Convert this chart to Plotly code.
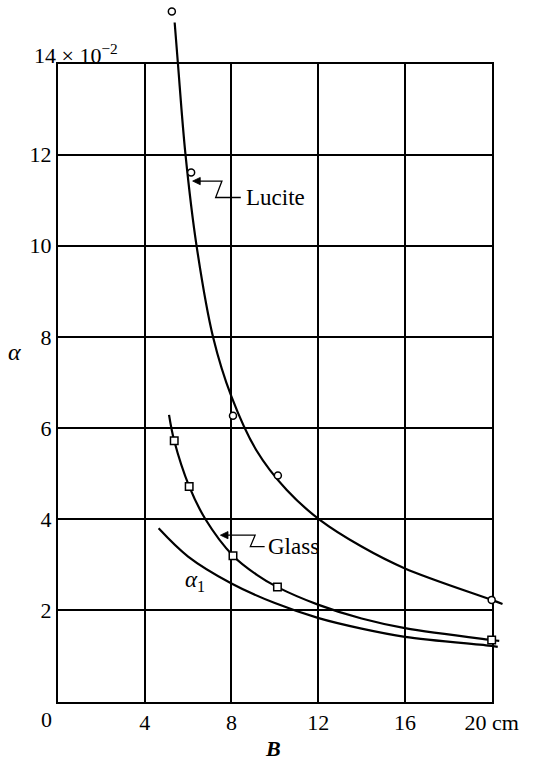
import plotly.graph_objects as go

# ---------------- data ----------------
# Lucite: measured points (open circles) and drawn curve
lucite_pts_B = [5.25, 6.14, 8.07, 10.14, 20.0]
lucite_pts_a = [15.14, 11.61, 6.27, 4.96, 2.23]
lucite_curve_B = [5.38, 5.53, 5.88, 6.39, 7.15, 8.0, 9.14, 10.55, 12.09, 14.0, 16.0, 20.0, 20.5]
lucite_curve_a = [14.9, 14.0, 12.0, 10.0, 8.0, 6.69, 5.52, 4.64, 3.98, 3.40, 2.92, 2.23, 2.14]

# Glass: measured points (open squares) and drawn curve
glass_pts_B = [5.36, 6.05, 8.07, 10.12, 20.0]
glass_pts_a = [5.72, 4.72, 3.20, 2.51, 1.35]
glass_curve_B = [5.12, 5.36, 6.05, 6.8, 8.07, 9.17, 10.12, 12.02, 14.0, 16.0, 20.0, 20.35]
glass_curve_a = [6.29, 5.72, 4.72, 4.0, 3.2, 2.78, 2.51, 2.12, 1.82, 1.61, 1.35, 1.33]

# alpha_1 curve
a1_curve_B = [4.64, 6.0, 8.0, 10.0, 12.02, 14.0, 16.0, 20.0, 20.28]
a1_curve_a = [3.80, 3.18, 2.59, 2.16, 1.83, 1.60, 1.42, 1.22, 1.20]

x_tickvals = [4, 8, 12, 16, 20]
x_ticktext = ["4", "8", "12", "16", "20 cm"]
y_tickvals = [2, 4, 6, 8, 10, 12]
y_ticktext = ["2", "4", "6", "8", "10", "12"]

# ---------------- layout geometry ----------------
W, H = 551, 762
PL, PR, PT, PB = 61, 517, 63.5, 701.5
X_MAX, Y_MAX = 20, 14
sx = (PR - PL) / X_MAX
sy = (PB - PT) / Y_MAX
FONT = "Liberation Serif"

def px(xp):
    return xp / W

def py(yp):
    return 1 - yp / H

fig = go.Figure()

curve_kw = dict(mode="lines", xaxis="x2", yaxis="y2", hoverinfo="skip", showlegend=False,
                cliponaxis=False)
for xb, ya in [(lucite_curve_B, lucite_curve_a), (glass_curve_B, glass_curve_a), (a1_curve_B, a1_curve_a)]:
    fig.add_trace(go.Scatter(x=xb, y=ya, line=dict(color="black", width=2.2, shape="spline", smoothing=1.0),
                             **curve_kw))

fig.add_trace(go.Scatter(x=lucite_pts_B, y=lucite_pts_a, mode="markers", xaxis="x2", yaxis="y2",
                         cliponaxis=False, showlegend=False,
                         marker=dict(symbol="circle", size=7, color="white", line=dict(color="black", width=1.5))))
fig.add_trace(go.Scatter(x=glass_pts_B, y=glass_pts_a, mode="markers", xaxis="x2", yaxis="y2",
                         cliponaxis=False, showlegend=False,
                         marker=dict(symbol="square", size=7.5, color="white", line=dict(color="black", width=1.5))))

axis_common = dict(showgrid=True, gridcolor="black", gridwidth=1.6, showline=True, linecolor="black",
                   linewidth=2.2, mirror=True, ticks="", zeroline=False,
                   tickfont=dict(family=FONT, size=22, color="black"), fixedrange=True)

fig.update_layout(
    width=W, height=H,
    margin=dict(l=0, r=0, t=0, b=0),
    paper_bgcolor="white", plot_bgcolor="rgba(0,0,0,0)",
    showlegend=False,
    font=dict(family=FONT, color="black"),
    xaxis=dict(domain=[px(PL), px(PR)], range=[0, X_MAX], anchor="y",
               tickmode="array", tickvals=x_tickvals, ticktext=x_ticktext, **axis_common),
    yaxis=dict(domain=[py(PB), py(PT)], range=[0, Y_MAX], anchor="x",
               tickmode="array", tickvals=y_tickvals, ticktext=y_ticktext, **axis_common),
    xaxis2=dict(domain=[px(PL), 1], range=[0, (W - PL) / sx], anchor="y2", visible=False, fixedrange=True),
    yaxis2=dict(domain=[py(PB), 1], range=[0, PB / sy], anchor="x2", visible=False, fixedrange=True),
)

ann = []
ann.append(dict(text="14 × 10<sup>−2</sup>", xref="paper", yref="paper", x=px(34), y=py(54),
                xanchor="left", yanchor="middle", showarrow=False, font=dict(family=FONT, size=22)))
ann.append(dict(text="0", xref="paper", yref="paper", x=px(48.7), y=py(719),
                xanchor="center", yanchor="middle", showarrow=False, font=dict(family=FONT, size=22)))
ann.append(dict(text="<i>α</i>", xref="paper", yref="paper", x=px(15), y=py(352),
                xanchor="center", yanchor="middle", showarrow=False, font=dict(family=FONT, size=24)))
ann.append(dict(text="<b><i>B</i></b>", xref="paper", yref="paper", x=px(287), y=py(748),
                xanchor="center", yanchor="middle", showarrow=False, font=dict(family=FONT, size=22)))
ann.append(dict(text="Lucite", xref="x", yref="y", x=8.58, y=11.06, xanchor="left", yanchor="middle",
                showarrow=False, font=dict(family=FONT, size=23)))
ann.append(dict(text="Glass", xref="x", yref="y", x=9.6, y=3.40, xanchor="left", yanchor="middle",
                showarrow=False, font=dict(family=FONT, size=23)))
ann.append(dict(text="<i>α</i><sub>1</sub>", xref="x", yref="y", x=6.32, y=2.65, xanchor="center",
                yanchor="middle", showarrow=False, font=dict(family=FONT, size=23)))
fig.update_layout(annotations=ann)

# leader lines with small filled arrowheads
lead = dict(color="black", width=1.3)
fig.update_layout(shapes=[
    dict(type="path", xref="x", yref="y", path="M 6.45 11.42 L 7.56 11.42 L 7.27 11.06 L 8.43 11.06",
         line=lead),
    dict(type="path", xref="x", yref="y", path="M 6.21 11.42 L 6.56 11.50 L 6.56 11.34 Z",
         line=dict(color="black", width=0.8), fillcolor="black"),
    dict(type="path", xref="x", yref="y", path="M 7.73 3.65 L 9.09 3.65 L 8.87 3.40 L 9.53 3.40",
         line=lead),
    dict(type="path", xref="x", yref="y", path="M 7.49 3.65 L 7.84 3.73 L 7.84 3.57 Z",
         line=dict(color="black", width=0.8), fillcolor="black"),
])

fig.write_html("out.html")
